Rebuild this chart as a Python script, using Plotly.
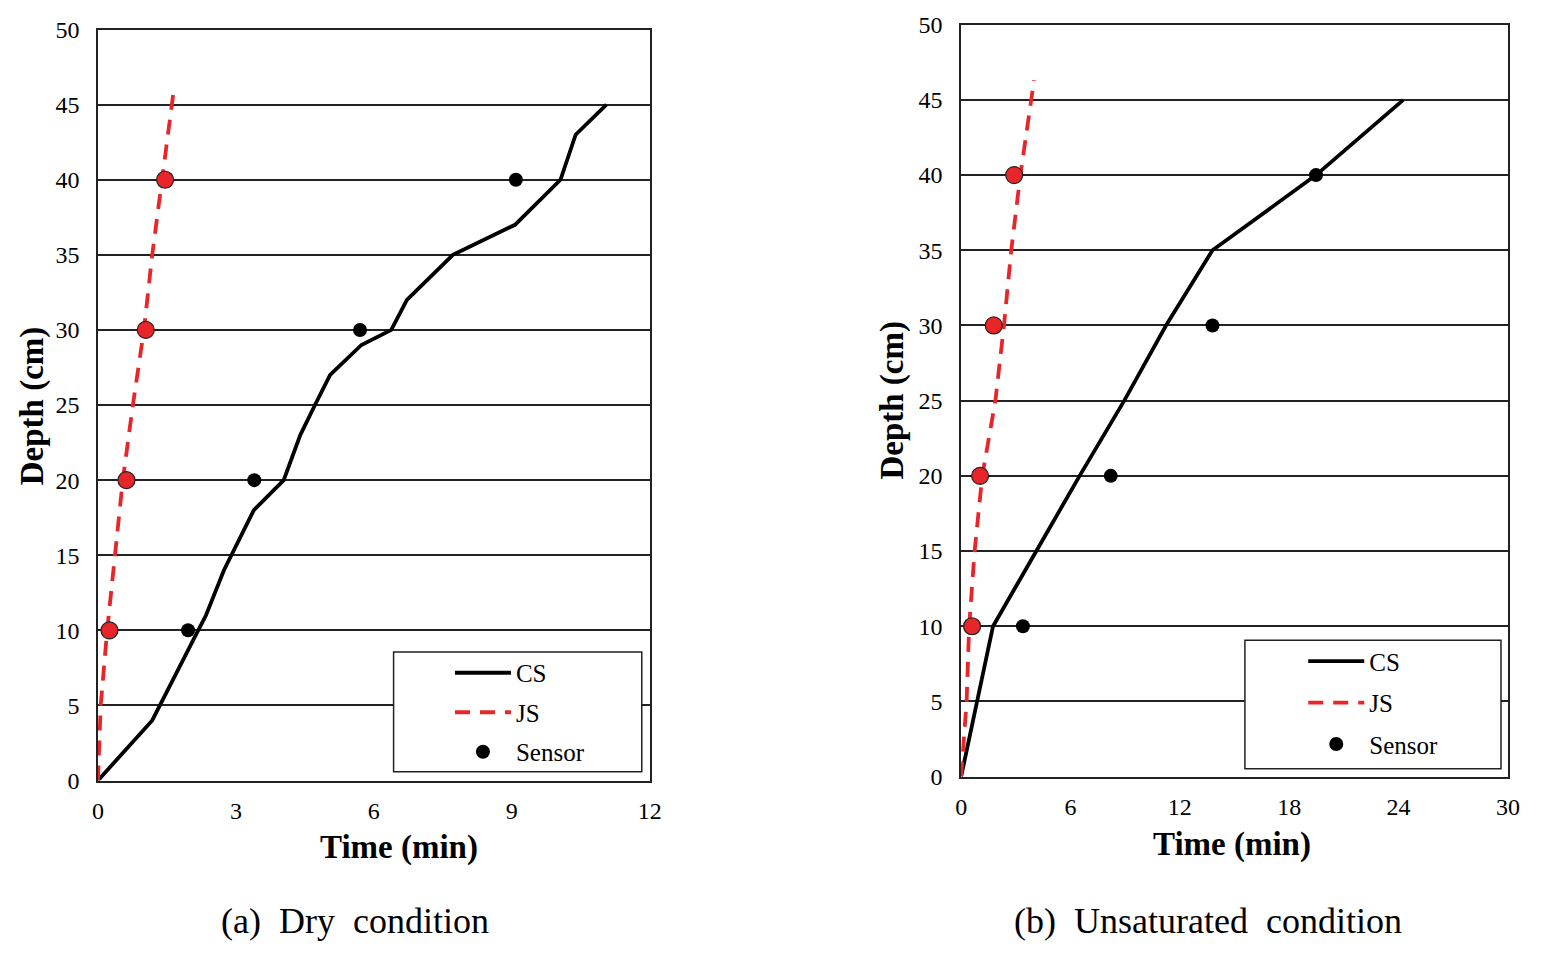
import plotly.graph_objects as go

# ---------------- data ----------------
# (a) Dry condition
dry_cs_time = [0, 1.18, 2.18, 2.35, 2.74, 3.39, 4.04, 4.40, 4.72, 5.05, 5.73, 6.38, 6.72, 7.72, 9.07, 10.06, 10.39, 11.06]
dry_cs_depth = [0, 4, 10, 11, 14, 18, 20, 23, 25, 27, 29, 30, 32, 35, 37, 40, 43, 45]
dry_js_time = [0, 0.06, 0.20, 0.36, 0.54, 0.76, 1.00, 1.18, 1.40, 1.62, 1.65]
dry_js_depth = [0, 5, 10, 15, 20, 25, 30, 35, 40, 45, 46]
dry_js_pt_time = [0.25, 0.62, 1.04, 1.46]
dry_js_pt_depth = [10, 20, 30, 40]
dry_sensor_time = [1.96, 3.40, 5.70, 9.09]
dry_sensor_depth = [10, 20, 30, 40]

# (b) Unsaturated condition
uns_cs_time = [0, 1.75, 6.50, 8.95, 11.24, 13.79, 19.47, 24.26]
uns_cs_depth = [0, 10, 20, 25, 30, 35, 40, 45]
uns_js_time = [0, 0.30, 0.44, 0.74, 1.16, 1.88, 2.35, 2.75, 3.25, 3.85, 4.00]
uns_js_depth = [0, 5, 10, 15, 20, 25, 30, 35, 40, 45, 46.3]
uns_js_pt_time = [0.60, 1.04, 1.79, 2.91]
uns_js_pt_depth = [10, 20, 30, 40]
uns_sensor_time = [3.39, 8.21, 13.79, 19.47]
uns_sensor_depth = [10, 20, 30, 40]

dry_xticks = [0, 3, 6, 9, 12]
uns_xticks = [0, 6, 12, 18, 24, 30]
yticks = [0, 5, 10, 15, 20, 25, 30, 35, 40, 45, 50]

# figure canvas (slightly larger than the 1541x953 window, which shows its top-left part)
FW, FH = 1600, 1000
FONT = "Liberation Serif, Times New Roman, serif"
RED = "#E8262A"


def px(x):
    return x / FW


def py(y):
    return 1 - y / FH


fig = go.Figure()


def add_panel(xa, ya, leg, cs_t, cs_d, js_t, js_d, jp_t, jp_d, s_t, s_d):
    fig.add_trace(go.Scatter(x=cs_t, y=cs_d, mode="lines", name="CS",
                             line=dict(color="black", width=3.8),
                             xaxis=xa, yaxis=ya, legend=leg, legendgroup=leg + "a"))
    fig.add_trace(go.Scatter(x=js_t, y=js_d, mode="lines", name="JS",
                             line=dict(color=RED, width=3.8, dash="15px,10px"),
                             xaxis=xa, yaxis=ya, legend=leg, legendgroup=leg + "b"))
    fig.add_trace(go.Scatter(x=jp_t, y=jp_d, mode="markers", name="JS points",
                             marker=dict(color=RED, size=17, line=dict(color="#222", width=1.2)),
                             xaxis=xa, yaxis=ya, showlegend=False))
    fig.add_trace(go.Scatter(x=s_t, y=s_d, mode="markers", name="Sensor",
                             marker=dict(color="black", size=14),
                             xaxis=xa, yaxis=ya, legend=leg, legendgroup=leg + "c"))


add_panel("x", "y", "legend", dry_cs_time, dry_cs_depth, dry_js_time, dry_js_depth,
          dry_js_pt_time, dry_js_pt_depth, dry_sensor_time, dry_sensor_depth)
add_panel("x2", "y2", "legend2", uns_cs_time, uns_cs_depth, uns_js_time, uns_js_depth,
          uns_js_pt_time, uns_js_pt_depth, uns_sensor_time, uns_sensor_depth)

axis_common = dict(showline=True, linecolor="#222", linewidth=1.5, mirror=True,
                   ticks="", tickfont=dict(family=FONT, size=24, color="black"),
                   zeroline=False)

fig.update_layout(
    width=FW, height=FH, autosize=False,
    margin=dict(l=0, r=0, t=0, b=0),
    paper_bgcolor="white", plot_bgcolor="white",
    font=dict(family=FONT, color="black"),
    xaxis=dict(domain=[px(93), px(651)], range=[0, 12], tickvals=dry_xticks,
               showgrid=False, anchor="y", ticklabelstandoff=8, **axis_common),
    yaxis=dict(domain=[py(788), py(17)], range=[0, 50], tickvals=yticks,
               showgrid=True, gridcolor="#222", gridwidth=1.5, anchor="x",
               ticklabelstandoff=12, **axis_common),
    xaxis2=dict(domain=[px(966), px(1519)], range=[0, 30], tickvals=uns_xticks,
                showgrid=False, anchor="y2", ticklabelstandoff=8, **axis_common),
    yaxis2=dict(domain=[py(784), py(12)], range=[0, 50], tickvals=yticks,
                showgrid=True, gridcolor="#222", gridwidth=1.5, anchor="x2",
                ticklabelstandoff=12, **axis_common),
    legend=dict(x=px(449), y=py(654), xanchor="left", yanchor="top",
                bgcolor="rgba(0,0,0,0)", borderwidth=0, traceorder="grouped",
                tracegroupgap=4, font=dict(family=FONT, size=25, color="black"),
                itemwidth=56),
    legend2=dict(x=px(1312), y=py(642), xanchor="left", yanchor="top",
                 bgcolor="rgba(0,0,0,0)", borderwidth=0, traceorder="grouped",
                 tracegroupgap=6, font=dict(family=FONT, size=25, color="black"),
                 itemwidth=56),
)

# legend frames
for (x0, x1, y0, y1) in [(392, 643, 656, 779), (1253, 1512, 644, 776)]:
    fig.add_shape(type="rect", xref="paper", yref="paper",
                  x0=px(x0), x1=px(x1), y0=py(y1), y1=py(y0),
                  line=dict(color="#222", width=1.5), fillcolor="white", layer="above")

# axis titles and captions
texts = [
    ("<b>Time (min)</b>", 397, 857, 0, 33),
    ("<b>Time (min)</b>", 1240, 854, 0, 33),
    ("<b>Depth (cm)</b>", 27, 403, -90, 33),
    ("<b>Depth (cm)</b>", 897, 397, -90, 33),
    ("(a)\u00a0\u00a0Dry\u00a0\u00a0condition", 353, 932, 0, 36),
    ("(b)\u00a0\u00a0Unsaturated\u00a0\u00a0condition", 1216, 932, 0, 36),
]
for t, x, y, ang, sz in texts:
    fig.add_annotation(text=t, xref="paper", yref="paper", x=px(x), y=py(y),
                       xanchor="center", yanchor="middle", showarrow=False,
                       textangle=ang, font=dict(family=FONT, size=sz, color="black"))

fig.write_html("out.html", config={"displayModeBar": False},
               post_script="document.body.style.margin='0';document.body.style.overflow='hidden';")
